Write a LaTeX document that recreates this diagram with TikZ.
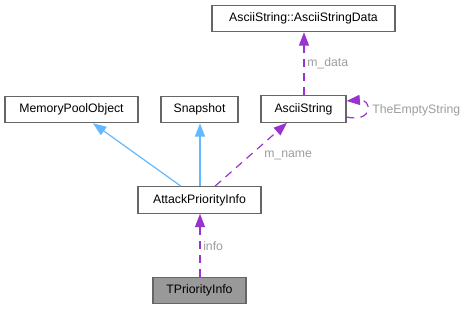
\documentclass[tikz,border=0pt]{standalone}
\usepackage{fontspec}
\setmainfont{Liberation Sans}
\usetikzlibrary{arrows.meta,calc}
\definecolor{boxline}{HTML}{666666}
\definecolor{inherit}{HTML}{63B8FF}
\definecolor{usage}{HTML}{9A32CD}
\definecolor{lbl}{HTML}{9C9C9C}
\definecolor{cur}{HTML}{999999}
\tikzset{
  cls/.style={draw=boxline, line width=0.8pt, fill=white, inner sep=0pt,
    minimum height={26.5*0.75pt}, font=\fontsize{9.2}{11}\selectfont},
  inh/.style={draw=inherit, line width=0.9pt,
    -{Triangle[length=10pt,width=7.5pt]}},
  use/.style={draw=usage, line width=0.9pt, dash pattern=on 6pt off 4.5pt,
    -{Triangle[length=10pt,width=7.5pt]}},
  elabel/.style={text=lbl, inner sep=0pt, font=\fontsize{9.2}{11}\selectfont},
}
\begin{document}
\begin{tikzpicture}[x=0.75pt,y=-0.75pt]
\useasboundingbox (0,0) rectangle (472,309);
% classes
\node[cls, minimum width={183*0.75pt}] (asd) at (303.5,18.5) {AsciiString::AsciiStringData};
\node[cls, minimum width={85*0.75pt}] (as) at (303.5,109) {AsciiString};
\node[cls, minimum width={133*0.75pt}] (mpo) at (71.5,109.5) {MemoryPoolObject};
\node[cls, minimum width={77*0.75pt}] (snap) at (199.5,109.5) {Snapshot};
\node[cls, minimum width={123*0.75pt}] (api) at (199.5,200) {AttackPriorityInfo};
\node[cls, minimum width={93*0.75pt}, fill=cur] (tpi) at (199.5,290.5) {TPriorityInfo};
% inheritance
\draw[inh] ($(api.north)+(-18.5,0)$) -- ($(mpo.south)+(21.5,0)$);
\draw[inh] ($(api.north)+(0.5,0)$) -- ($(snap.south)+(0.5,0)$);
% members
\draw[use] ($(api.north)+(15.5,0)$) -- ($(as.south)+(-16.5,0)$);
\node[elabel, anchor=west] (mname) at (264,155) {m\_name};
\draw[use] ($(as.north)+(0.5,0)$) -- ($(asd.south)+(0.5,0)$);
\node[elabel, anchor=west] (mdata) at (307,63) {m\_data};
\draw[use] ($(as.east)+(0,8)$) .. controls (374,123) and (372,99) .. ($(as.east)+(0,-8)$);
\node[elabel, anchor=west] (tes) at (372,110) {TheEmptyString};
\draw[use] ($(tpi.north)+(0.5,0)$) -- ($(api.south)+(0.5,0)$);
\node[elabel, anchor=west] (info) at (203,246) {info};
\end{tikzpicture}
\end{document}
